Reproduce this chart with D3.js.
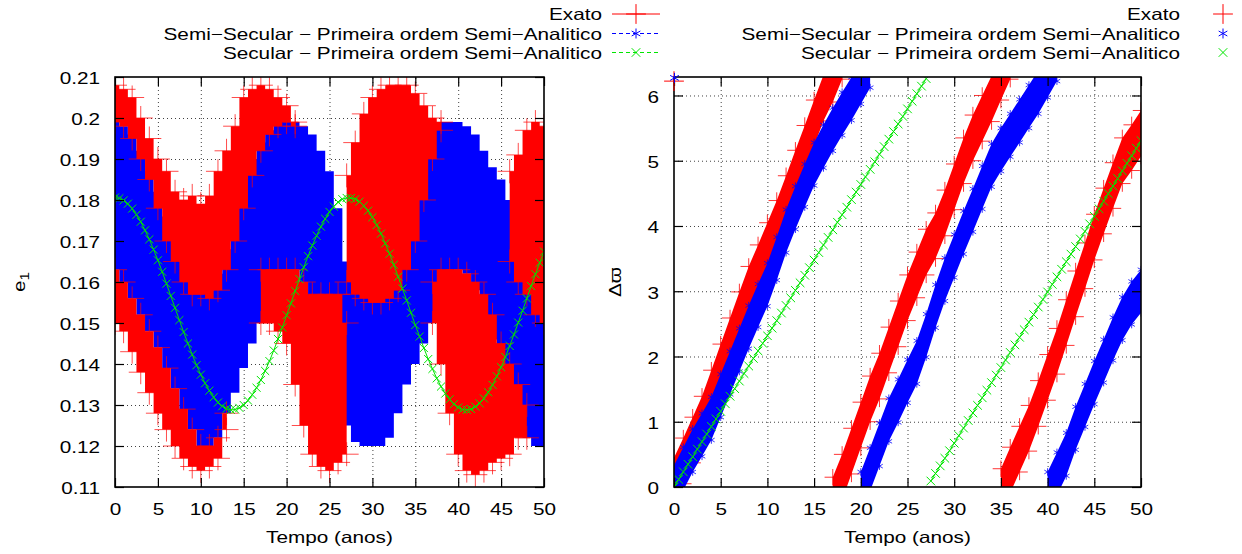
<!DOCTYPE html>
<html>
<head>
<meta charset="utf-8">
<script src="https://cdn.jsdelivr.net/npm/d3@7"></script>
<style>
  body { margin: 0; background: #fff; }
  svg { display: block; }
</style>
</head>
<body>
<svg id="chart" width="1242" height="554"></svg>
<script>
// ---------- data ----------
const legendNames = ['Exato', 'Semi\u2212Secular \u2212 Primeira ordem Semi\u2212Analitico', 'Secular \u2212 Primeira ordem Semi\u2212Analitico'];
const xTicks = [0, 5, 10, 15, 20, 25, 30, 35, 40, 45, 50];
const yTicksLeft = [0.11, 0.12, 0.13, 0.14, 0.15, 0.16, 0.17, 0.18, 0.19, 0.2, 0.21];
const yTicksRight = [0, 1, 2, 3, 4, 5, 6];

// sample times (anos)
const years = [0,1,2,3,4,5,6,7,8,9,10,11,12,13,14,15,16,17,18,19,20,21,22,23,24,25,26,27,28,29,30,31,32,33,34,35,36,37,38,39,40,41,42,43,44,45,46,47,48,49,50];
const halfYears = [0,0.5,1,1.5,2,2.5,3,3.5,4,4.5,5,5.5,6,6.5,7,7.5,8,8.5,9,9.5,10,10.5,11,11.5,12,12.5,13,13.5,14,14.5,15,15.5,16,16.5,17,17.5,18,18.5,19,19.5,20,20.5,21,21.5,22,22.5,23,23.5,24,24.5,25,25.5,26,26.5,27,27.5,28,28.5,29,29.5,30,30.5,31,31.5,32,32.5,33,33.5,34,34.5,35,35.5,36,36.5,37,37.5,38,38.5,39,39.5,40,40.5,41,41.5,42,42.5,43,43.5,44,44.5,45,45.5,46,46.5,47,47.5,48,48.5,49,49.5,50];

// e1, semi-secular band (blue)
const blueHiLeft = [0.199,0.198,0.196,0.192,0.187,0.182,0.176,0.170,0.165,0.160, 0.158,0.158,0.162,0.168,0.178,0.185,0.190,0.194,0.197,0.199, 0.199,0.199,0.198,0.196,0.192,0.187,0.178,0.165,0.160,0.157, 0.156,0.157,0.160,0.168,0.178,0.188,0.194,0.198,0.199,0.199, 0.199,0.198,0.196,0.192,0.188,0.185,0.180,0.174,0.168,0.160,0.155];
const blueLoLeft = [0.163,0.160,0.156,0.152,0.148,0.144,0.139,0.134,0.129,0.124, 0.120,0.120,0.122,0.128,0.133,0.139,0.145,0.150,0.155,0.160, 0.163,0.163,0.160,0.156,0.150,0.140,0.132,0.125,0.121,0.120, 0.120,0.120,0.122,0.128,0.135,0.140,0.145,0.150,0.156,0.161, 0.163,0.162,0.158,0.152,0.146,0.140,0.133,0.127,0.122,0.120,0.120];

// e1, exact solution (red): upper and lower lobes that show around the blue band
const redUpHiLeft = [0.208,0.207,0.205,0.200,0.195,0.190,0.187,0.182,0.180,0.181, 0.179,0.181,0.187,0.192,0.198,0.205,0.207,0.208,0.207,0.205, 0.203,0.199,null,null,null,null,null,0.186,0.194,0.201, 0.205,0.207,0.208,0.208,0.208,0.206,0.203,0.200,0.199,null, null,null,null,null,null,null,0.187,0.191,0.197,0.199,0.198];
const redUpLoLeft = [0.199,0.198,0.195,0.190,0.185,0.178,0.170,0.165,0.160,0.157, 0.157,0.156,0.158,0.163,0.170,0.178,0.186,0.192,0.196,0.198, 0.199,0.198,null,null,null,null,null,0.160,0.157,0.156, 0.155,0.155,0.156,0.158,0.163,0.170,0.180,0.190,0.197,null, null,null,null,null,null,null,0.165,0.160,0.157,0.152,0.150];
const redDnHiLeft = [0.163,0.160,0.156,0.152,0.148,0.144,0.139,0.134,0.129,0.124, 0.120,0.120,0.122,0.128,null,null,null,0.163,0.163,0.163, 0.163,0.163,0.160,0.157,0.157,0.157,0.157,0.150,null,null, null,null,null,null,null,null,null,0.160,0.163,0.163, 0.163,0.162,0.160,0.157,0.152,0.145,0.140,0.135,0.130,null,null];
const redDnLoLeft = [0.150,0.148,0.143,0.138,0.133,0.128,0.124,0.120,0.117,0.115, 0.114,0.115,0.117,0.124,null,null,null,0.150,0.150,0.148, 0.145,0.135,0.125,0.118,0.115,0.114,0.116,0.118,null,null, null,null,null,null,null,null,null,0.150,0.140,0.128, 0.118,0.114,0.113,0.114,0.116,0.117,0.118,0.122,0.122,null,null];

// e1, secular (green), every half year
const greenLeft = [0.1806,0.1804,0.1799,0.1791,0.1779,0.1764,0.1747,0.1726,0.1704,0.1679, 0.1653,0.1625,0.1596,0.1566,0.1537,0.1507,0.1478,0.1450,0.1423,0.1397, 0.1374,0.1353,0.1335,0.1319,0.1306,0.1297,0.1291,0.1288,0.1289,0.1293, 0.1300,0.1311,0.1325,0.1342,0.1361,0.1383,0.1407,0.1433,0.1461,0.1489, 0.1519,0.1548,0.1578,0.1607,0.1636,0.1663,0.1689,0.1713,0.1735,0.1754, 0.1771,0.1784,0.1795,0.1802,0.1805,0.1805,0.1802,0.1796,0.1786,0.1774, 0.1758,0.1739,0.1718,0.1694,0.1669,0.1642,0.1613,0.1584,0.1555,0.1525, 0.1495,0.1467,0.1439,0.1412,0.1388,0.1365,0.1345,0.1328,0.1314,0.1302, 0.1294,0.1289,0.1288,0.1290,0.1296,0.1304,0.1316,0.1331,0.1349,0.1370, 0.1392,0.1417,0.1444,0.1472,0.1501,0.1530,0.1560,0.1590,0.1619,0.1647, 0.1674];

// delta varpi, bands as [t, low, high]
const redRight1 = [[0,-0.25,0.45],[1,0.05,0.75],[2,0.37,1.07],[3,0.69,1.39],[4,1.09,1.79],[5,1.49,2.19],[6,1.89,2.59],[7,2.29,2.99],[8,2.68,3.38],[9,3.01,3.71],[10,3.35,4.05],[11,3.69,4.39],[12,4.07,4.77],[13,4.46,5.16],[14,4.84,5.54],[15,5.23,5.93],[16,5.61,6.31],[17,5.9,6.6],[18,6.25,6.95]];
const redRight2 = [[17,-0.55,0.15],[18,-0.2,0.5],[19,0.2,0.9],[20,0.6,1.3],[21,1.0,1.7],[22,1.35,2.05],[23,1.75,2.45],[24,2.15,2.85],[25,2.55,3.25],[26,2.9,3.6],[27,3.25,3.95],[28,3.5,4.2],[29,3.85,4.55],[30,4.25,4.95],[31,4.65,5.35],[32,5.0,5.7],[33,5.3,6.0],[34,5.6,6.3],[35,5.93,6.63],[36,6.25,6.95]];
const redRight3 = [[35,-0.42,0.28],[36,-0.09,0.61],[37,0.23,0.93],[38,0.55,1.25],[39,0.93,1.63],[40,1.33,2.03],[41,1.73,2.43],[42,2.17,2.87],[43,2.61,3.31],[44,3.04,3.74],[45,3.48,4.18],[46,3.88,4.58],[47,4.27,4.97],[48,4.65,5.35],[49,4.85,5.55],[50,5.07,5.77]];
const blueRight1 = [[0,-0.33,0.33],[1,-0.05,0.61],[2,0.23,0.89],[3,0.47,1.13],[4,0.72,1.38],[5,1.07,1.73],[6,1.42,2.08],[7,1.77,2.43],[8,2.12,2.78],[9,2.45,3.11],[10,2.77,3.43],[11,3.17,3.83],[12,3.59,4.25],[13,3.95,4.61],[14,4.29,4.95],[15,4.62,5.28],[16,4.89,5.55],[17,5.15,5.81],[18,5.39,6.05],[19,5.62,6.28],[20,5.87,6.53],[21,6.12,6.78]];
const blueRight2 = [[20,-0.43,0.23],[21,-0.06,0.6],[22,0.32,0.98],[23,0.7,1.36],[24,0.99,1.65],[25,1.29,1.95],[26,1.58,2.24],[27,1.99,2.65],[28,2.44,3.1],[29,2.85,3.51],[30,3.21,3.87],[31,3.57,4.23],[32,3.91,4.57],[33,4.26,4.92],[34,4.6,5.26],[35,4.84,5.5],[36,5.06,5.72],[37,5.28,5.94],[38,5.5,6.16],[39,5.72,6.38],[40,5.97,6.63],[41,6.22,6.88]];
const blueRight3 = [[40,-0.43,0.23],[41,-0.13,0.53],[42,0.17,0.83],[43,0.57,1.23],[44,0.92,1.58],[45,1.27,1.93],[46,1.6,2.26],[47,1.94,2.6],[48,2.25,2.91],[49,2.49,3.15],[50,2.67,3.33]];
const cornerPoints = [{ t: 0, v: 6.22, s: 'red' }, { t: 0.05, v: 6.27, s: 'blue' }];

// delta varpi, secular (green), every half year
const greenRight = [0.000,0.116,0.232,0.348,0.464,0.580,0.695,0.811,0.927,1.043, 1.159,1.275,1.391,1.507,1.623,1.739,1.854,1.970,2.086,2.202, 2.318,2.434,2.550,2.666,2.782,2.898,3.013,3.129,3.245,3.361, 3.477,3.593,3.709,3.825,3.941,4.057,4.172,4.288,4.404,4.520, 4.636,4.752,4.868,4.984,5.100,5.216,5.331,5.447,5.563,5.679, 5.795,5.911,6.027,6.143,6.259,0.092,0.208,0.324,0.440,0.556, 0.671,0.787,0.903,1.019,1.135,1.251,1.367,1.483,1.599,1.715, 1.830,1.946,2.062,2.178,2.294,2.410,2.526,2.642,2.758,2.874, 2.989,3.105,3.221,3.337,3.453,3.569,3.685,3.801,3.917,4.033, 4.148,4.264,4.380,4.496,4.612,4.728,4.844,4.960,5.076,5.192, 5.307];

// ---------- look ----------
const RED = '#ff0000', BLUE = '#0000ff', GREEN = '#00e600';
const FONT = '"Liberation Sans", Arial, "DejaVu Sans", sans-serif';
const FS = 16.5;
const SX = 1.257; // gnuplot glyphs are wider than Liberation Sans

const svg = d3.select('#chart');
const defs = svg.append('defs');

const xL = d3.scaleLinear().domain([0, 50]).range([115, 544]);
const yL = d3.scaleLinear().domain([0.11, 0.21]).range([487, 77]);
const xR = d3.scaleLinear().domain([0, 50]).range([674, 1141]);
const yR = d3.scaleLinear().domain([0, 2 * Math.PI]).range([487, 77]);

const symPlus = d3.symbolPlus || d3.symbolCross;
const symTimes = d3.symbolTimes || d3.symbolX;
const symStar = d3.symbolAsterisk || d3.symbolCross;

function txt(parent, x, y, str, anchor) {
  return parent.append('text')
    .attr('transform', `translate(${x},${y}) scale(${SX},1)`)
    .attr('text-anchor', anchor)
    .attr('font-family', FONT)
    .attr('font-size', FS)
    .attr('fill', '#000')
    .text(str);
}

function stretchText(sel) {
  sel.selectAll('text').each(function() {
    const t = d3.select(this);
    const x = +(t.attr('x') || 0);
    t.attr('x', x / SX).attr('transform', `scale(${SX},1)`);
  });
}

// dotted grid of one panel
function grid(x, y, yTicks) {
  const [x0, x1] = x.range();
  const [y1, y0] = y.range();
  const g = svg.append('g');
  g.append('g')
    .attr('transform', `translate(0,${y1})`)
    .call(d3.axisBottom(x).tickValues(xTicks.slice(1, -1)).tickSize(-(y1 - y0)).tickFormat(''))
    .call(s => s.select('.domain').remove());
  g.append('g')
    .attr('transform', `translate(${x0},0)`)
    .call(d3.axisLeft(y).tickValues(yTicks.filter(v => y(v) > y0 + 1 && y(v) < y1 - 1)).tickSize(-(x1 - x0)).tickFormat(''))
    .call(s => s.select('.domain').remove());
  g.selectAll('line')
    .attr('stroke', '#000')
    .attr('stroke-opacity', 0.75)
    .attr('stroke-dasharray', '1,3');
}

// border, mirrored inward ticks and tick labels
function frame(x, y, yTicks, yFmt) {
  const [x0, x1] = x.range();
  const [y1, y0] = y.range();
  const g = svg.append('g');
  const bottom = g.append('g')
    .attr('transform', `translate(0,${y1})`)
    .call(d3.axisBottom(x).tickValues(xTicks).tickSizeInner(-9).tickSizeOuter(0).tickPadding(16));
  g.append('g')
    .attr('transform', `translate(0,${y0})`)
    .call(d3.axisTop(x).tickValues(xTicks).tickSizeInner(-9).tickSizeOuter(0).tickFormat(''));
  const left = g.append('g')
    .attr('transform', `translate(${x0},0)`)
    .call(d3.axisLeft(y).tickValues(yTicks).tickSizeInner(-9).tickSizeOuter(0).tickPadding(15).tickFormat(yFmt));
  g.append('g')
    .attr('transform', `translate(${x1},0)`)
    .call(d3.axisRight(y).tickValues(yTicks).tickSizeInner(-9).tickSizeOuter(0).tickFormat(''));
  g.selectAll('.domain').remove();
  g.selectAll('.tick line').attr('stroke', '#000').attr('stroke-width', 1.2);
  g.selectAll('text').attr('font-family', FONT).attr('font-size', FS).attr('fill', '#000');
  left.selectAll('text').attr('dy', '0.42em');
  stretchText(bottom);
  stretchText(left);
  g.append('rect')
    .attr('x', x0).attr('y', y0)
    .attr('width', x1 - x0).attr('height', y1 - y0)
    .attr('fill', 'none').attr('stroke', '#000').attr('stroke-width', 1.6);
}

function clipFor(id, x, y) {
  const [x0, x1] = x.range();
  const [y1, y0] = y.range();
  defs.append('clipPath').attr('id', id)
    .append('rect').attr('x', x0).attr('y', y0).attr('width', x1 - x0).attr('height', y1 - y0);
}

function marks(parent, pts, sym, size, color, opacity) {
  parent.selectAll(null)
    .data(pts)
    .enter()
    .append('path')
    .attr('transform', d => `translate(${d[0]},${d[1]})`)
    .attr('d', d3.symbol().type(sym).size(size))
    .attr('fill', 'none')
    .attr('stroke', color)
    .attr('stroke-opacity', opacity)
    .attr('stroke-width', 1);
}

// ================= left panel: e1 =================
clipFor('clipL', xL, yL);
grid(xL, yL, yTicksLeft);

const dataL = svg.append('g').attr('clip-path', 'url(#clipL)');

const bandL = (hi, lo) => d3.area()
  .defined((d, i) => hi[i] != null)
  .x((d, i) => xL(years[i]))
  .y0((d, i) => yL(lo[i]))
  .y1((d, i) => yL(hi[i]))
  .curve(d3.curveStep);

dataL.append('path').datum(years).attr('d', bandL(blueHiLeft, blueLoLeft)).attr('fill', BLUE);
dataL.append('path').datum(years).attr('d', bandL(redUpHiLeft, redUpLoLeft)).attr('fill', RED);
dataL.append('path').datum(years).attr('d', bandL(redDnHiLeft, redDnLoLeft)).attr('fill', RED);

// + markers along the red edges
const redEdgePts = [];
years.forEach((t, i) => {
  [redUpHiLeft, redUpLoLeft, redDnHiLeft, redDnLoLeft].forEach(arr => {
    if (arr[i] != null) redEdgePts.push([xL(t), yL(arr[i])]);
  });
});
marks(dataL, redEdgePts, symPlus, 190, RED, 0.7);

// green secular curve
dataL.append('path')
  .datum(greenLeft)
  .attr('d', d3.line().x((d, i) => xL(halfYears[i])).y(d => yL(d)))
  .attr('fill', 'none').attr('stroke', GREEN).attr('stroke-width', 1);
marks(dataL, greenLeft.map((v, i) => [xL(halfYears[i]), yL(v)]), symTimes, 44, GREEN, 1);

frame(xL, yL, yTicksLeft, d3.format('~g'));

// ================= right panel: delta varpi =================
clipFor('clipR', xR, yR);
grid(xR, yR, yTicksRight);

const dataR = svg.append('g').attr('clip-path', 'url(#clipR)');
const bandR = d3.area()
  .x(d => xR(d[0]))
  .y0(d => yR(d[1]))
  .y1(d => yR(d[2]))
  .curve(d3.curveLinear);

[redRight1, redRight2, redRight3].forEach(b => {
  dataR.append('path').datum(b).attr('d', bandR).attr('fill', RED);
  marks(dataR, b.flatMap(d => [[xR(d[0]), yR(d[1])], [xR(d[0]), yR(d[2])]]), symPlus, 90, RED, 0.8);
});
[blueRight1, blueRight2, blueRight3].forEach(b => {
  dataR.append('path').datum(b).attr('d', bandR).attr('fill', BLUE);
  marks(dataR, b.flatMap(d => [[xR(d[0]), yR(d[1])], [xR(d[0]), yR(d[2])]]), symStar, 40, BLUE, 0.8);
});

// green: linear ramp, wraps at 2*pi
const greenSegs = [[]];
greenRight.forEach((v, i) => {
  if (i > 0 && v < greenRight[i - 1]) greenSegs.push([]);
  greenSegs[greenSegs.length - 1].push([halfYears[i], v]);
});
greenSegs.forEach(seg => {
  dataR.append('path')
    .datum(seg)
    .attr('d', d3.line().x(d => xR(d[0])).y(d => yR(d[1])))
    .attr('fill', 'none').attr('stroke', GREEN).attr('stroke-width', 1);
});
marks(dataR, greenRight.map((v, i) => [xR(halfYears[i]), yR(v)]), symTimes, 50, GREEN, 1);

frame(xR, yR, yTicksRight, d3.format('d'));

// stray wrap-around points in the top-left corner
cornerPoints.forEach(p => {
  marks(svg, [[xR(p.t), yR(p.v)]], p.s === 'red' ? symPlus : symStar, p.s === 'red' ? 130 : 70, p.s === 'red' ? RED : BLUE, 1);
});

// ================= axis titles =================
txt(svg, (xL.range()[0] + xL.range()[1]) / 2, 543, 'Tempo (anos)', 'middle');
txt(svg, (xR.range()[0] + xR.range()[1]) / 2, 543, 'Tempo (anos)', 'middle');

const e1 = svg.append('text')
  .attr('transform', `translate(25,282) rotate(-90) scale(${SX},1)`)
  .attr('text-anchor', 'middle')
  .attr('font-family', FONT).attr('font-size', FS);
e1.append('tspan').text('e');
e1.append('tspan').attr('font-size', 12).attr('dy', 4).text('1');

svg.append('text')
  .attr('transform', `translate(621,282) rotate(-90) scale(${SX},1)`)
  .attr('text-anchor', 'middle')
  .attr('font-family', FONT).attr('font-size', FS)
  .text('\u0394\u03d6');

// ================= legends =================
const rowsY = [20, 39.5, 58.5];
const colors = [RED, BLUE, GREEN];
const syms = [symPlus, symStar, symTimes];
const symSizes = [130, 70, 50];

const legL = svg.append('g');
legendNames.forEach((name, i) => {
  txt(legL, 602, rowsY[i], name, 'end');
  legL.append('line')
    .attr('x1', 612).attr('x2', 660)
    .attr('y1', rowsY[i] - 6).attr('y2', rowsY[i] - 6)
    .attr('stroke', colors[i]).attr('stroke-width', 1)
    .attr('stroke-dasharray', i === 0 ? null : '4,3');
  marks(legL, [[636, rowsY[i] - 6]], syms[i], symSizes[i], colors[i], 1);
});

const legR = svg.append('g');
legendNames.forEach((name, i) => {
  txt(legR, 1180, rowsY[i], name, 'end');
  marks(legR, [[1223, rowsY[i] - 6]], syms[i], symSizes[i], colors[i], 1);
});
</script>
</body>
</html>
